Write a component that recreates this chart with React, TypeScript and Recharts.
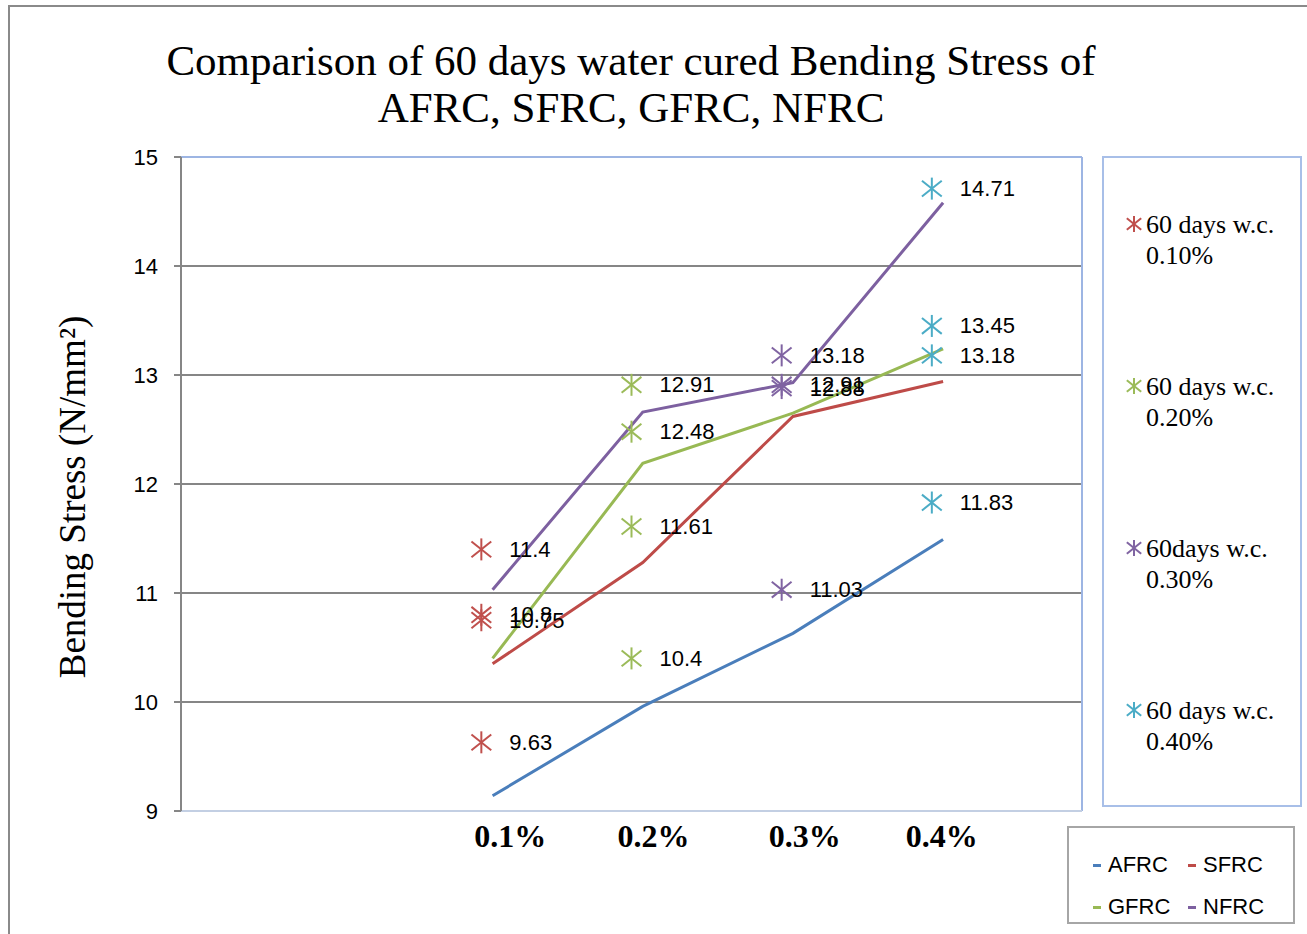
import React from "react";
import {
  ComposedChart,
  Line,
  Scatter,
  XAxis,
  YAxis,
  CartesianGrid,
  ReferenceLine,
} from "recharts";

// ---------- data ----------
const categories = ["0.1%", "0.2%", "0.3%", "0.4%"];
const yTicks = [9, 10, 11, 12, 13, 14, 15];

const afrc = [9.14, 9.96, 10.63, 11.49];
const sfrc = [10.35, 11.28, 12.62, 12.94];
const gfrc = [10.4, 12.19, 12.65, 13.24];
const nfrc = [11.03, 12.66, 12.93, 14.58];

const wc010 = [11.4, 10.8, 10.75, 9.63];
const wc020 = [12.91, 12.48, 11.61, 10.4];
const wc030 = [13.18, 12.91, 12.88, 11.03];
const wc040 = [14.71, 13.45, 13.18, 11.83];

const lineSeries = [
  { name: "AFRC", values: afrc, color: "#4a7ebb" },
  { name: "SFRC", values: sfrc, color: "#be4b48" },
  { name: "GFRC", values: gfrc, color: "#98b954" },
  { name: "NFRC", values: nfrc, color: "#7d60a0" },
];

const pointSeries = [
  { name: "60 days w.c.", sub: "0.10%", values: wc010, color: "#c0504d", cat: 0 },
  { name: "60 days w.c.", sub: "0.20%", values: wc020, color: "#9bbb59", cat: 1 },
  { name: "60days w.c.", sub: "0.30%", values: wc030, color: "#8064a2", cat: 2 },
  { name: "60 days w.c.", sub: "0.40%", values: wc040, color: "#4bacc6", cat: 3 },
];

const lineData = categories.map((c, i) => {
  const row: any = { i, cat: c };
  lineSeries.forEach((s) => (row[s.name] = s.values[i]));
  return row;
});

// ---------- styles ----------
const SERIF = "'Liberation Serif', 'Times New Roman', serif";
const SANS = "'Liberation Sans', Arial, sans-serif";
const W = 1307;
const H = 934;
const tickNudge = [29, 22, 23, 10];

const Star = ({ cx, cy, color, r = 11 }: any) => (
  <g stroke={color} strokeWidth={2} fill="none">
    <line x1={cx} y1={cy - r} x2={cx} y2={cy + r} />
    <line x1={cx - r * 0.9} y1={cy - r * 0.72} x2={cx + r * 0.9} y2={cy + r * 0.72} />
    <line x1={cx - r * 0.9} y1={cy + r * 0.72} x2={cx + r * 0.9} y2={cy - r * 0.72} />
  </g>
);

const makeShape = (color: string) => (props: any) => {
  const { cx, cy, payload } = props;
  return (
    <g>
      <Star cx={cx} cy={cy} color={color} />
      <text
        x={cx + 28}
        y={cy}
        dominantBaseline="central"
        fontFamily={SANS}
        fontSize={22}
        fill="#000"
      >
        {payload.y}
      </text>
    </g>
  );
};

const XTick = (props: any) => {
  const { x, y, payload, index } = props;
  return (
    <text
      x={x + (tickNudge[index] ?? 20)}
      y={y + 17}
      textAnchor="middle"
      dominantBaseline="central"
      fontFamily={SERIF}
      fontWeight="bold"
      fontSize={32}
      fill="#000"
    >
      {categories[payload.value]}
    </text>
  );
};

const YLabel = () => (
  <text
    x={72}
    y={497}
    transform="rotate(-90 72 497)"
    textAnchor="middle"
    dominantBaseline="central"
    fontFamily={SERIF}
    fontSize={37}
    fill="#000"
  >
    Bending Stress (N/mm²)
  </text>
);

export default function App() {
  return (
    <div
      style={{
        position: "absolute",
        left: 0,
        top: 0,
        width: W,
        height: H,
        overflow: "hidden",
        background: "#fff",
      }}
    >
      <div
        style={{
          position: "absolute",
          left: 8,
          top: 5,
          width: 1340,
          height: 980,
          border: "2px solid #8a8a8a",
        }}
      />
      <div
        style={{
          position: "absolute",
          left: 0,
          top: 37,
          width: 1262,
          textAlign: "center",
          fontFamily: SERIF,
          fontSize: 43,
          lineHeight: "47px",
          color: "#000",
        }}
      >
        Comparison of 60 days water cured Bending Stress of
        <br />
        AFRC, SFRC, GFRC, NFRC
      </div>

      <div style={{ position: "absolute", left: 0, top: 0 }}>
        <ComposedChart
          width={W}
          height={H}
          data={lineData}
          margin={{ top: 157, right: 225, bottom: 0, left: 0 }}
        >
          <CartesianGrid
            vertical={false}
            horizontalValues={[10, 11, 12, 13, 14]}
            stroke="#868686"
            strokeWidth={2}
          />
          <XAxis
            xAxisId="pt"
            dataKey="i"
            type="number"
            domain={[-2, 4]}
            ticks={[0, 1, 2, 3]}
            allowDataOverflow
            axisLine={{ stroke: "#c3cfe3", strokeWidth: 2 }}
            tickLine={false}
            tick={<XTick />}
            height={123}
          />
          <XAxis
            xAxisId="ln"
            dataKey="i"
            type="number"
            domain={[-2.075, 3.925]}
            allowDataOverflow
            orientation="top"
            height={0}
            hide
          />
          <YAxis
            type="number"
            domain={[9, 15]}
            ticks={yTicks}
            allowDataOverflow
            width={181}
            axisLine={{ stroke: "#868686", strokeWidth: 2 }}
            tickLine={{ stroke: "#868686", strokeWidth: 2 }}
            tickSize={7}
            tickMargin={16}
            tick={{ fontFamily: SANS, fontSize: 22, fill: "#000" }}
            label={<YLabel />}
          />
          <ReferenceLine xAxisId="pt" y={15} stroke="#9db5e3" strokeWidth={2} />
          <ReferenceLine xAxisId="pt" x={4} stroke="#9db5e3" strokeWidth={2} />
          {pointSeries.map((s) => (
            <Scatter
              key={s.sub}
              xAxisId="pt"
              name={`${s.name} ${s.sub}`}
              data={s.values.map((v) => ({ i: s.cat, y: v }))}
              dataKey="y"
              fill={s.color}
              shape={makeShape(s.color)}
              isAnimationActive={false}
            />
          ))}
          {lineSeries.map((s) => (
            <Line
              key={s.name}
              xAxisId="ln"
              type="linear"
              dataKey={s.name}
              stroke={s.color}
              strokeWidth={3}
              dot={false}
              activeDot={false}
              isAnimationActive={false}
            />
          ))}
        </ComposedChart>
      </div>

      {/* right legend */}
      <div
        style={{
          position: "absolute",
          left: 1102,
          top: 156,
          width: 196,
          height: 647,
          border: "2px solid #a8bfe8",
          background: "#fff",
        }}
      >
        {pointSeries.map((s, k) => (
          <div
            key={s.sub}
            style={{
              position: "absolute",
              left: 20,
              top: 51 + k * 162,
              fontFamily: SERIF,
              fontSize: 26,
              lineHeight: "31px",
              color: "#000",
              whiteSpace: "nowrap",
            }}
          >
            <svg width={22} height={22} style={{ position: "absolute", left: 0, top: 4 }}>
              <Star cx={10} cy={11} color={s.color} r={8} />
            </svg>
            <div style={{ paddingLeft: 22 }}>{s.name}</div>
            <div style={{ paddingLeft: 22 }}>{s.sub}</div>
          </div>
        ))}
      </div>

      {/* bottom legend */}
      <div
        style={{
          position: "absolute",
          left: 1067,
          top: 826,
          width: 224,
          height: 94,
          border: "2px solid #a6a6a6",
          background: "#fff",
        }}
      >
        {lineSeries.map((s, k) => (
          <div
            key={s.name}
            style={{
              position: "absolute",
              left: k % 2 === 0 ? 24 : 119,
              top: k < 2 ? 22 : 64,
              fontFamily: SANS,
              fontSize: 22,
              lineHeight: "30px",
              color: "#000",
              display: "flex",
              alignItems: "center",
            }}
          >
            <span
              style={{
                display: "inline-block",
                width: 8,
                height: 3,
                background: s.color,
                marginRight: 7,
              }}
            />
            {s.name}
          </div>
        ))}
      </div>
    </div>
  );
}
